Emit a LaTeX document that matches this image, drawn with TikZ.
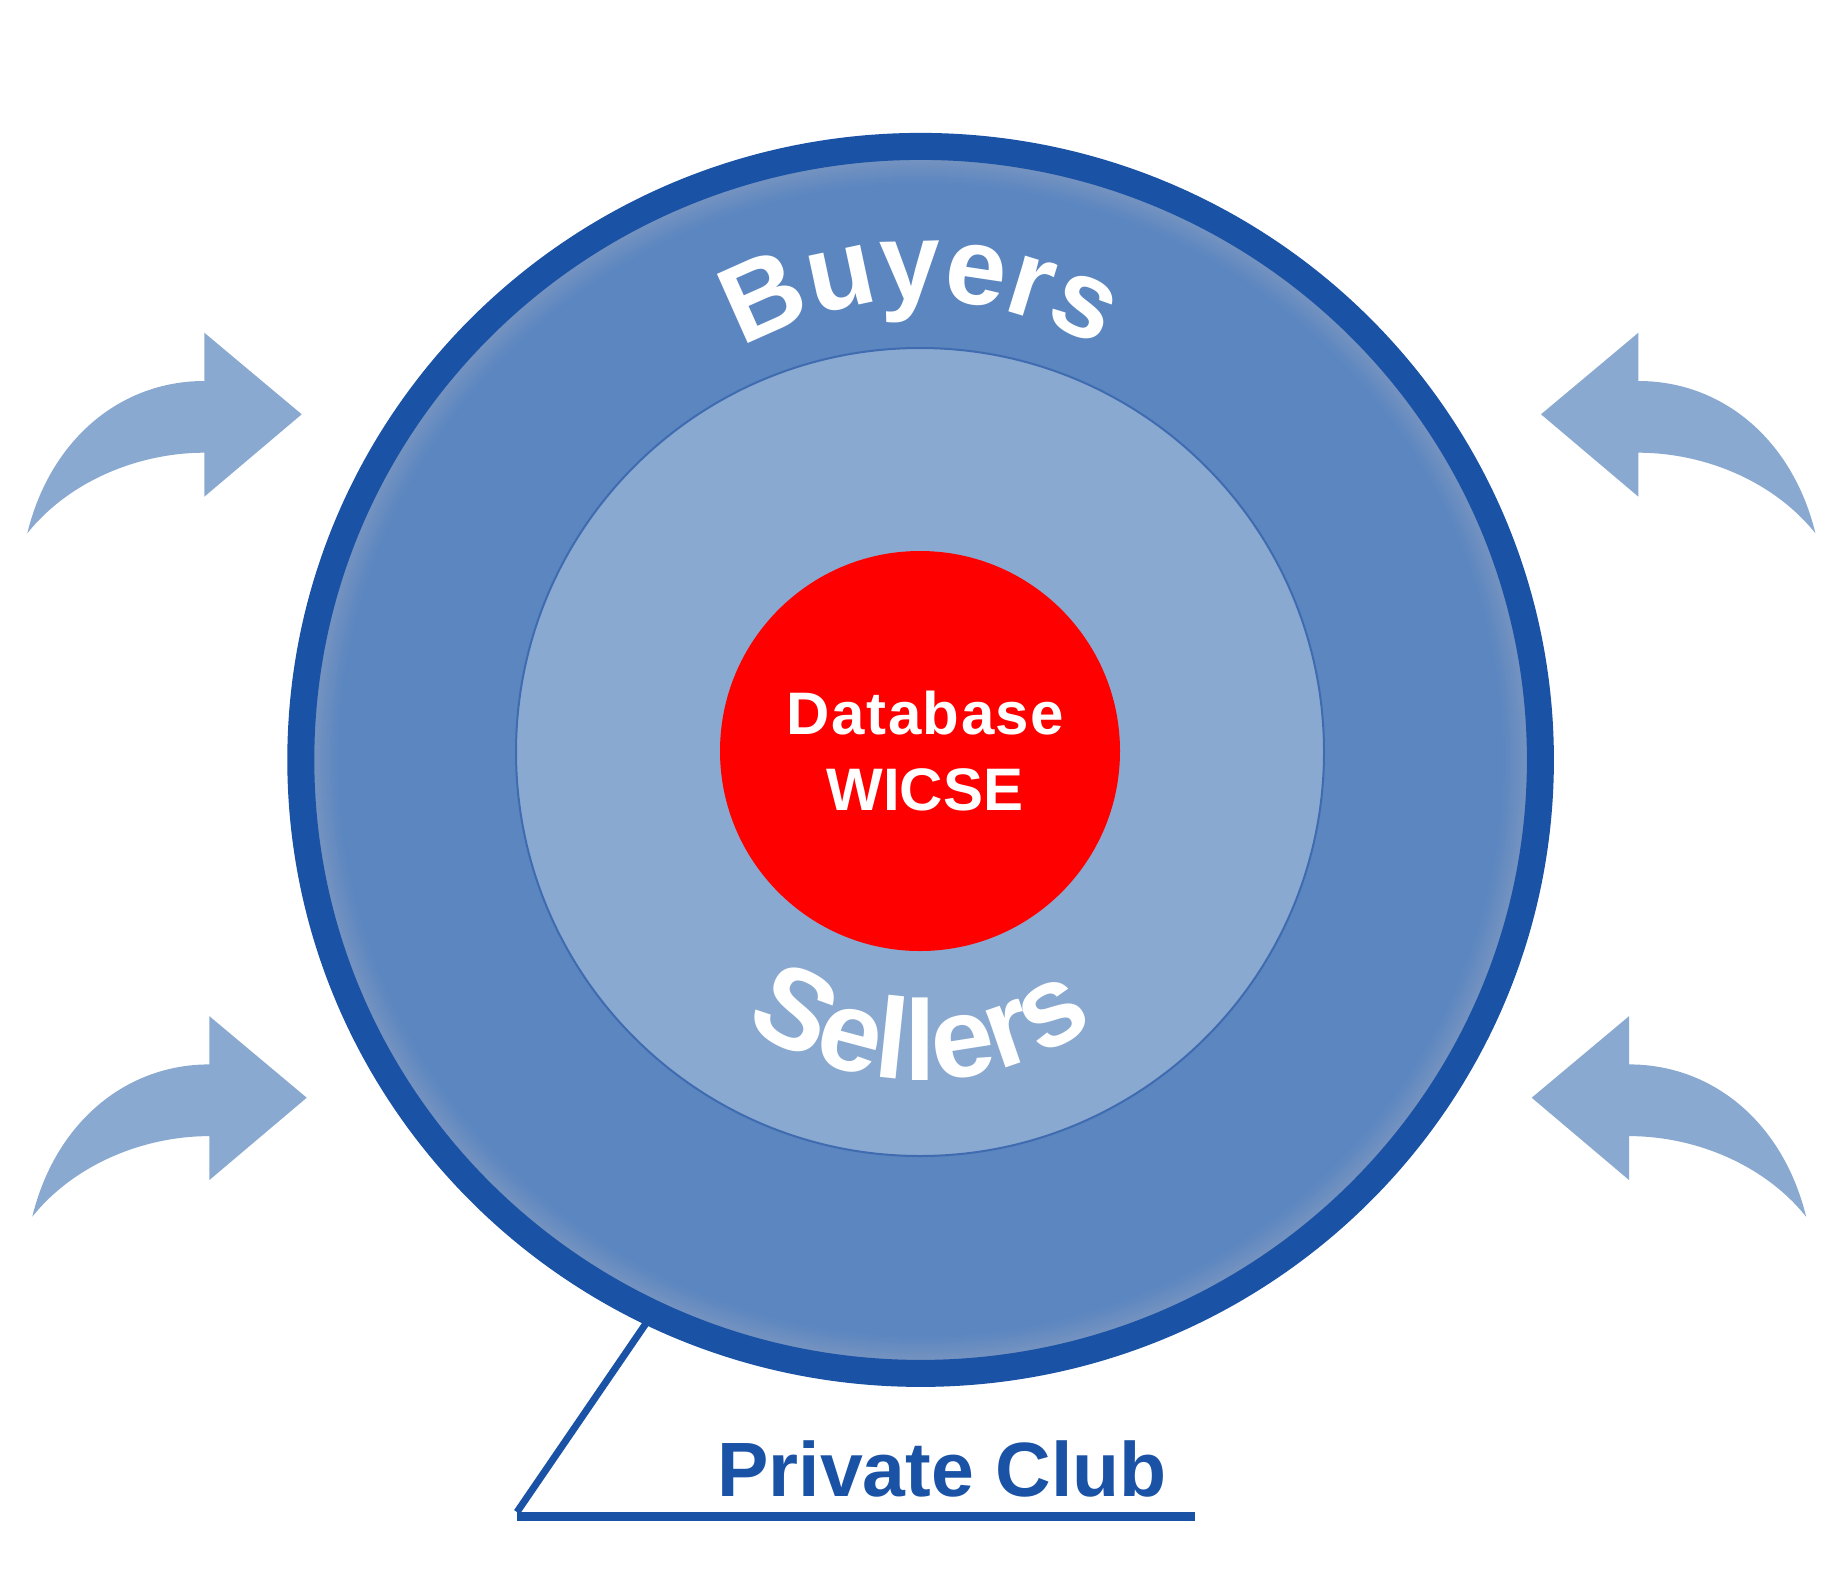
\documentclass[tikz,border=0pt]{standalone}
\usepackage{fontspec}
\setmainfont{Liberation Sans}
\usetikzlibrary{shapes.geometric,decorations.text}
\definecolor{ringblue}{HTML}{1A52A5}
\definecolor{outerblue}{HTML}{5B86C0}
\definecolor{midblue}{HTML}{8AA9D0}
\definecolor{midline}{HTML}{3F6CB0}
\definecolor{arrowblue}{HTML}{8AA9D0}
\tikzset{
  curvarrow/.pic={
    \fill[arrowblue] (-97.4,33.3) -- (-97.4,81.6) -- (0,0) -- (-97.4,-82.4) -- (-97.4,-38.4)
      .. controls (-161.7,-38.4) and (-231.7,-65.7) .. (-274.4,-119)
      .. controls (-251.7,-25.7) and (-181.7,33.3) .. cycle;
  },
  centertext/.style={text=white, font=\bfseries\fontsize{60}{72}\selectfont, anchor=base, inner sep=0pt},
  cluetext/.style={text=ringblue, font=\bfseries\fontsize{77}{92}\selectfont, anchor=base, inner sep=0pt}
}
\begin{document}
\begin{tikzpicture}[x=1pt,y=1pt]
\useasboundingbox (0,0) rectangle (1843,-1571);
\fill[white] (0,0) rectangle (1843,-1571);
% side arrows
\pic at (301.7,-414.3) {curvarrow};
\pic at (306.7,-1097.7) {curvarrow};
\pic[xscale=-1] at (1541,-414.3) {curvarrow};
\pic[xscale=-1] at (1531.7,-1097.7) {curvarrow};
% outer disc with soft inner glow
\fill[outerblue] (920.6,-759.9) ellipse [x radius=620pt, y radius=613.5pt];
\begin{scope}
  \clip (920.6,-759.9) ellipse [x radius=607pt, y radius=600.5pt];
  \foreach \w in {4,8,...,48}
    \draw[white, opacity=0.016, line width=\w pt] (920.6,-759.9) ellipse [x radius=606.3pt, y radius=600pt];
\end{scope}
\node[ellipse, draw=ringblue, line width=27pt, minimum width=1239.6pt, minimum height=1227pt, inner sep=0pt] (ring) at (920.6,-759.9) {};
% middle circle and core
\node[circle, fill=midblue, draw=midline, line width=2pt, minimum size=808pt, inner sep=0pt] (mid) at (920,-752) {};
\node[circle, fill=red, minimum size=400pt, inner sep=0pt] (core) at (920,-751) {};
\node[centertext, font=\bfseries\fontsize{60}{72}\selectfont\addfontfeature{LetterSpace=2.5}] (db) at (925.5,-734) {Database};
\node[centertext] (wicse) at (925,-810) {WICSE};
% curved labels
\path[decorate, decoration={text along path, text align=center,
  text={|\color{white}\bfseries\fontsize{110}{132}\selectfont|Buyers}}]
  (920,-650) ++(160:350pt) arc[start angle=160, end angle=20, radius=350pt];
\path[decorate, decoration={text along path, text align=center,
  text={|\color{white}\bfseries\fontsize{114}{136}\selectfont|Sellers}}]
  (920,-774) ++(200:306pt) arc[start angle=200, end angle=340, radius=306pt];
% private club callout
\coordinate (corner) at (517,-1512);
\coordinate (cl) at (517,-1516);
\coordinate (cr) at (1195,-1516);
\draw[ringblue, line width=7pt, shorten <=-6pt] (ring.244.5) -- (corner);
\draw[ringblue, line width=9pt] (cl) -- (cr);
\node[cluetext] (club) at (942,-1496) {Private Club};
\end{tikzpicture}
\end{document}
